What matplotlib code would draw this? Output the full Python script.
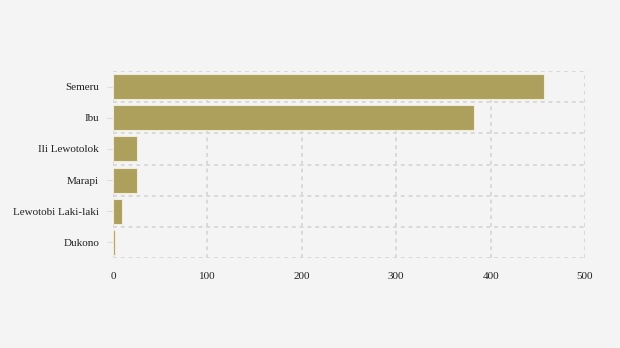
import matplotlib
matplotlib.use("Agg")
import matplotlib.pyplot as plt
import numpy as np

volcanoes = ["Semeru", "Ibu", "Ili Lewotolok", "Marapi", "Lewotobi Laki-laki", "Dukono"]
counts = [457, 382, 25, 25, 10, 2]

plt.rcParams["font.family"] = ["Liberation Serif", "DejaVu Serif"]

fig = plt.figure(figsize=(6.2, 3.48), dpi=100, facecolor="#f4f4f4")
ax = fig.add_axes([113 / 620, 1 - 258 / 348, 472 / 620, 187 / 348])
ax.set_facecolor("#f4f4f4")

y = np.arange(len(volcanoes))
ax.barh(y, counts, height=0.8, color="#ad9f5c", edgecolor="#f0ecd8", linewidth=0.8, zorder=3)

ax.set_xlim(0, 500)
ax.set_ylim(len(volcanoes) - 0.5, -0.5)
ax.set_xticks([0, 100, 200, 300, 400, 500])
ax.set_yticks(y)
ax.set_yticklabels(volcanoes)
ax.set_yticks(np.arange(-0.5, len(volcanoes)), minor=True)

# dotted grid at the band edges, like the original
grid_style = dict(color="#d9d9d9", linestyle=(0, (2, 2)), linewidth=1.4)
ax.grid(axis="x", which="major", **grid_style)
ax.grid(axis="y", which="minor", **grid_style)
ax.grid(axis="y", which="major", visible=False)
ax.set_axisbelow(True)

for s in ax.spines.values():
    s.set_visible(False)

ax.tick_params(axis="y", which="major", length=4, color="#dddddd", labelsize=8,
               labelcolor="#222222", pad=6)
ax.tick_params(axis="y", which="minor", length=0)
ax.tick_params(axis="x", length=0, labelsize=8, labelcolor="#222222", pad=10)

fig.savefig("out.png", dpi=100, facecolor=fig.get_facecolor())
